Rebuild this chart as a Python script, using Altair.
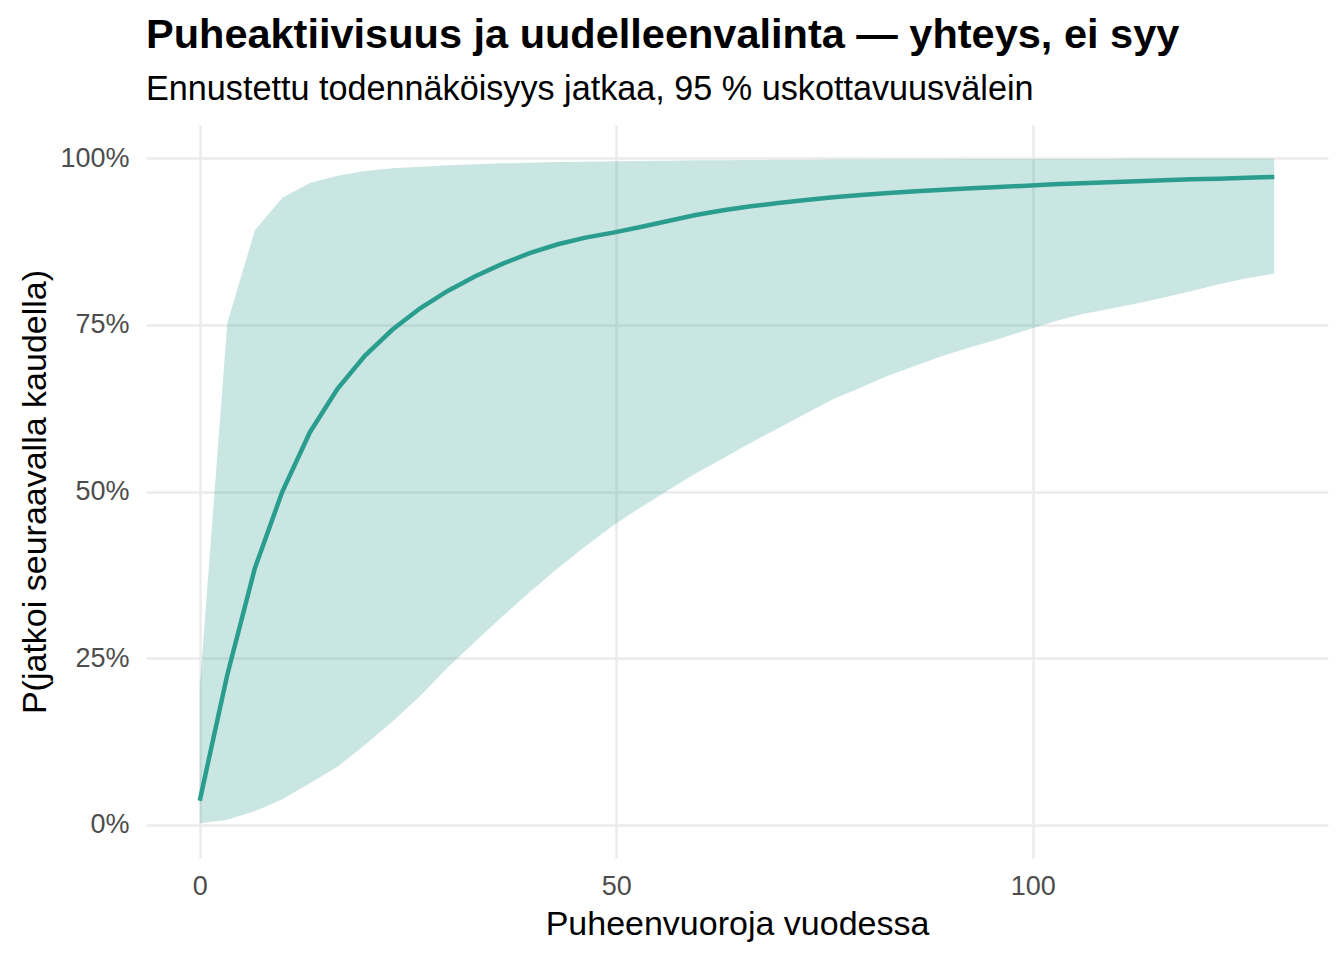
import altair as alt
import pandas as pd

# Puheenvuoroja vuodessa (x grid of the prediction curve)
x_vals = [0.0, 3.31, 6.62, 9.92, 13.23, 16.54, 19.85, 23.15, 26.46, 29.77,
          33.08, 36.38, 39.69, 43.0, 46.31, 49.62, 52.92, 56.23, 59.54, 62.85,
          66.15, 69.46, 72.77, 76.08, 79.38, 82.69, 86.0, 89.31, 92.62, 95.92,
          99.23, 102.54, 105.85, 109.15, 112.46, 115.77, 119.08, 122.38, 125.69, 129.0]

# Ennustettu todennäköisyys (%)
fit_pct = [3.6, 22.5, 38.5, 50.0, 58.9, 65.4, 70.4, 74.3, 77.5, 80.1,
           82.3, 84.2, 85.8, 87.1, 88.1, 88.85, 89.7, 90.6, 91.5, 92.2,
           92.8, 93.3, 93.75, 94.15, 94.5, 94.8, 95.05, 95.3, 95.5, 95.7,
           95.9, 96.1, 96.25, 96.4, 96.55, 96.7, 96.85, 96.95, 97.1, 97.2]

# 95 % uskottavuusväli, alaraja (%)
lower_pct = [0.2, 0.75, 2.0, 3.8, 6.2, 8.7, 12.0, 15.5, 19.3, 23.6,
             27.5, 31.3, 35.0, 38.5, 41.8, 44.9, 47.6, 50.2, 52.7, 55.0,
             57.3, 59.5, 61.7, 63.9, 65.6, 67.4, 68.9, 70.4, 71.7, 72.9,
             74.2, 75.5, 76.6, 77.4, 78.2, 79.1, 80.1, 81.1, 82.0, 82.7]

# 95 % uskottavuusväli, yläraja (%)
upper_pct = [20.5, 75.3, 89.2, 94.1, 96.3, 97.4, 98.1, 98.5, 98.75, 98.95,
             99.1, 99.25, 99.35, 99.45, 99.5, 99.55, 99.6, 99.65, 99.7, 99.72,
             99.75, 99.78, 99.8, 99.82, 99.84, 99.85, 99.86, 99.87, 99.88, 99.89,
             99.9, 99.9, 99.91, 99.91, 99.92, 99.92, 99.93, 99.93, 99.94, 99.94]

x_ticks = [0, 50, 100]
y_ticks = [0, 0.25, 0.5, 0.75, 1.0]

df = pd.DataFrame({
    "x": x_vals,
    "fit": [v / 100 for v in fit_pct],
    "lo": [v / 100 for v in lower_pct],
    "hi": [v / 100 for v in upper_pct],
})

FONT = "Liberation Sans"
TEAL = "#2A9D8F"
W, H = 1182, 733

xs = alt.Scale(domain=[-6.45, 135.45], nice=False, zero=False)
ys = alt.Scale(domain=[-0.05, 1.05], nice=False, zero=False)

x_axis = alt.Axis(
    title="Puheenvuoroja vuodessa", values=x_ticks, format="d",
    grid=True, domain=False, ticks=False, tickSize=0,
    gridColor="#EBEBEB", gridWidth=2.5,
    labelFontSize=27, labelColor="#4D4D4D", labelPadding=15, labelFont=FONT,
    titleFontSize=34, titleColor="black", titleFontWeight="normal", titleFont=FONT,
    titleBaseline="alphabetic", titleX=W / 2, titleY=76, titleAlign="center",
)
y_axis = alt.Axis(
    title="P(jatkoi seuraavalla kaudella)", values=y_ticks, format=".0%",
    grid=True, domain=False, ticks=False, tickSize=0,
    gridColor="#EBEBEB", gridWidth=2.5,
    labelFontSize=27, labelColor="#4D4D4D", labelPadding=17, labelFont=FONT,
    titleFontSize=34, titleColor="black", titleFontWeight="normal", titleFont=FONT,
    titleBaseline="alphabetic", titleX=-101, titleY=H / 2, titleAlign="center",
    titleAngle=270,
)

base = alt.Chart(df)

band = base.mark_area(color=TEAL, opacity=0.25).encode(
    x=alt.X("x:Q", scale=xs, axis=x_axis),
    y=alt.Y("lo:Q", scale=ys, axis=y_axis),
    y2="hi:Q",
)
line = base.mark_line(color=TEAL, strokeWidth=4.5).encode(
    x=alt.X("x:Q", scale=xs, axis=x_axis),
    y=alt.Y("fit:Q", scale=ys, axis=y_axis),
)

chart = alt.layer(band, line).properties(
    width=W, height=H,
    background="white",
    title=alt.TitleParams(
        text="Puheaktiivisuus ja uudelleenvalinta — yhteys, ei syy",
        subtitle="Ennustettu todennäköisyys jatkaa, 95 % uskottavuusvälein",
        anchor="start", frame="group",
        font=FONT, fontSize=41.5, fontWeight="bold", color="black",
        subtitleFont=FONT, subtitleFontSize=34.2, subtitleColor="black",
        subtitlePadding=16, offset=18,
    ),
    autosize=alt.AutoSizeParams(type="none"),
    padding={"left": 138, "top": 117, "right": 8, "bottom": 94},
).configure_view(strokeWidth=0, stroke="transparent")

chart.save("out.html", embed_options={"renderer": "svg", "actions": False})
